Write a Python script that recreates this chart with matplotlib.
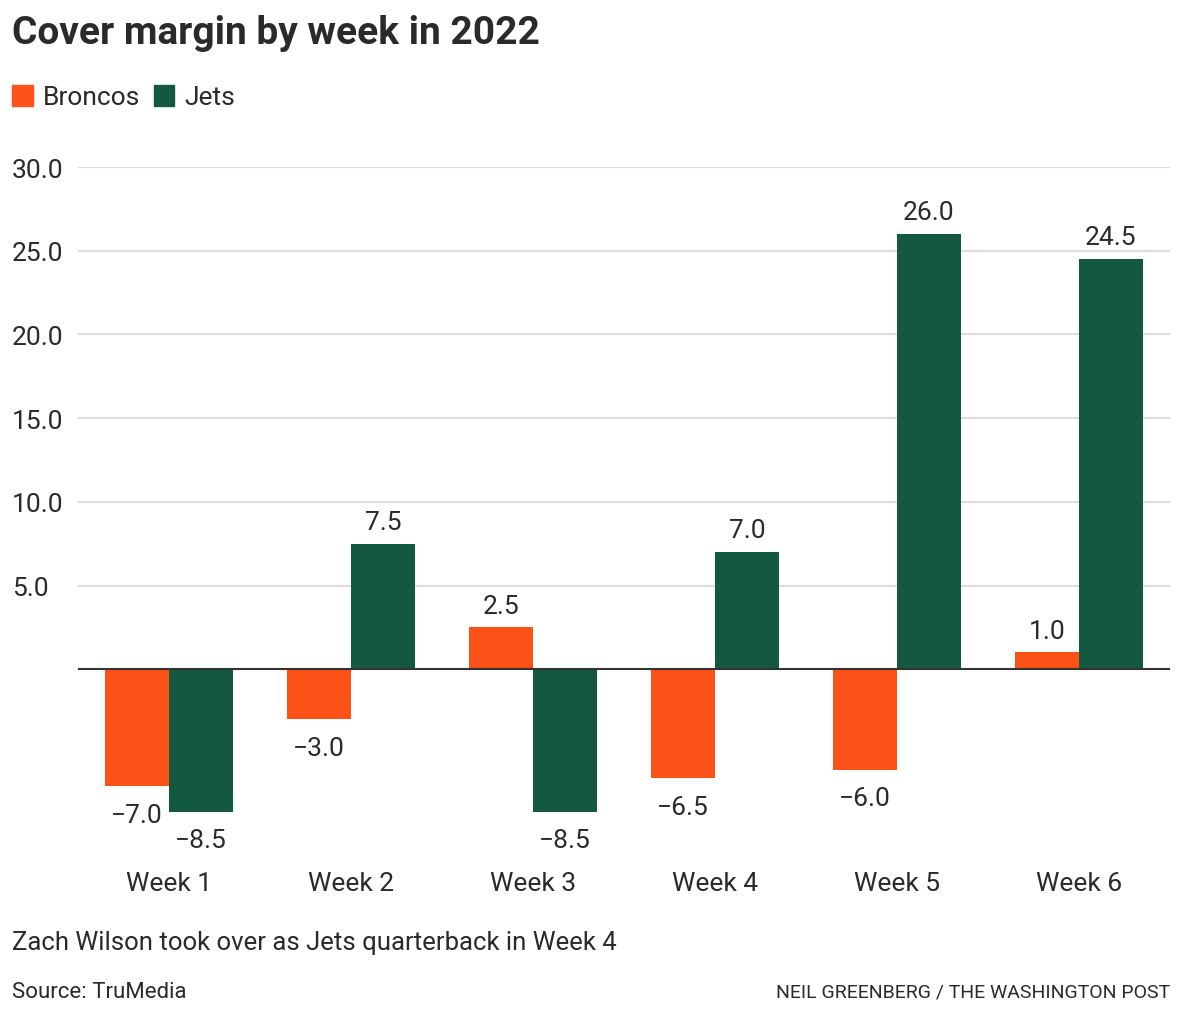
import matplotlib
matplotlib.use("Agg")
import matplotlib.pyplot as plt
import matplotlib.patches as mpatches
import numpy as np

# datos
semanas = ["Week 1", "Week 2", "Week 3", "Week 4", "Week 5", "Week 6"]
broncos = [-7.0, -3.0, 2.5, -6.5, -6.0, 1.0]
jets = [-8.5, 7.5, -8.5, 7.0, 26.0, 24.5]
y_ticks = [5, 10, 15, 20, 25, 30]

naranja = "#fc5117"
verde = "#135942"
texto = "#2a2a2a"

plt.rcParams["font.family"] = ["Roboto", "DejaVu Sans"]

fig = plt.figure(figsize=(11.8, 10.2), dpi=100)
ax = fig.add_axes([78 / 1180, 1 - 846 / 1020, (1170 - 78) / 1180, (846 - 168) / 1020])

x = np.arange(len(semanas))
ancho = 0.35
barras_b = ax.bar(x - ancho / 2, broncos, ancho, color=naranja, zorder=2)
barras_j = ax.bar(x + ancho / 2, jets, ancho, color=verde, zorder=2)

def etiqueta(v):
    return f"{v:.1f}".replace("-", "\u2212")

for barras, vals in [(barras_b, broncos), (barras_j, jets)]:
    for b, v in zip(barras, vals):
        cx = b.get_x() + b.get_width() / 2
        if v >= 0:
            ax.annotate(etiqueta(v), (cx, v), xytext=(0, 7), textcoords="offset points",
                        ha="center", va="bottom", fontsize=19, color=texto)
        else:
            ax.annotate(etiqueta(v), (cx, v), xytext=(0, -12), textcoords="offset points",
                        ha="center", va="top", fontsize=19, color=texto)

ax.set_xlim(-0.5, len(semanas) - 0.5)
ax.set_ylim(-10.5, 30)
ax.set_yticks(y_ticks)
ax.set_yticklabels([f"{t:.1f}" for t in y_ticks], fontsize=19, color=texto, ha="left")
ax.tick_params(axis="y", length=0, pad=47.5)
ax.set_xticks(x)
ax.set_xticklabels(semanas, fontsize=19, color=texto)
ax.tick_params(axis="x", length=0, pad=19)
ax.grid(axis="y", color="#dddddd", linewidth=1.5, zorder=0)
ax.axhline(0, color="#333333", linewidth=1.5, zorder=3)
for s in ax.spines.values():
    s.set_visible(False)

# título y leyenda
fig.text(12 / 1180, 1 - 33 / 1020, "Cover margin by week in 2022", fontsize=28,
         fontweight="bold", color=texto, va="center", ha="left")
parches = [mpatches.Patch(color=naranja, label="Broncos"), mpatches.Patch(color=verde, label="Jets")]
fig.legend(handles=parches, loc="center left", bbox_to_anchor=(12 / 1180, 1 - 98 / 1020), ncol=2,
           frameon=False, fontsize=19, handlelength=0.78, handleheight=0.85, handletextpad=0.4,
           columnspacing=0.5, labelcolor=texto, borderaxespad=0, borderpad=0)

# pie
fig.text(12 / 1180, 1 - 943 / 1020, "Zach Wilson took over as Jets quarterback in Week 4",
         fontsize=18.5, color=texto, va="center", ha="left")
fig.text(12 / 1180, 1 - 993 / 1020, "Source: TruMedia", fontsize=16, color=texto, va="center", ha="left")
fig.text(1170 / 1180, 1 - 993 / 1020, "NEIL GREENBERG / THE WASHINGTON POST", fontsize=14,
         color=texto, va="center", ha="right")

fig.savefig("out.png", dpi=100, facecolor="white")
